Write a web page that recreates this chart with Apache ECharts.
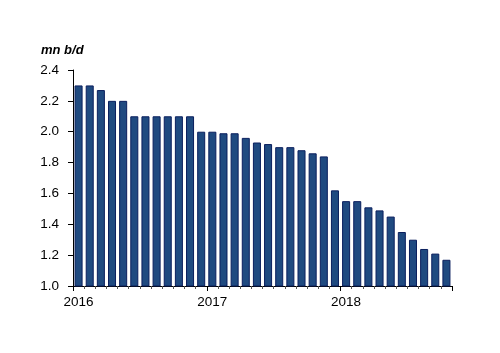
<!DOCTYPE html>
<html>
<head>
<meta charset="utf-8">
<script src="https://cdn.jsdelivr.net/npm/echarts@6/dist/echarts.min.js"></script>
<style>
html, body { margin: 0; padding: 0; background: #fff; }
#container { width: 500px; height: 353px; }
</style>
</head>
<body>
<div id="container"></div>
<script>
var months = [
    '2016-01','2016-02','2016-03','2016-04','2016-05','2016-06','2016-07','2016-08','2016-09','2016-10','2016-11','2016-12',
    '2017-01','2017-02','2017-03','2017-04','2017-05','2017-06','2017-07','2017-08','2017-09','2017-10','2017-11','2017-12',
    '2018-01','2018-02','2018-03','2018-04','2018-05','2018-06','2018-07','2018-08','2018-09','2018-10'
];
var values = [
    2.30, 2.30, 2.27, 2.20, 2.20, 2.10, 2.10, 2.10, 2.10, 2.10, 2.10, 2.00,
    2.00, 1.99, 1.99, 1.96, 1.93, 1.92, 1.90, 1.90, 1.88, 1.86, 1.84, 1.62,
    1.55, 1.55, 1.51, 1.49, 1.45, 1.35, 1.30, 1.24, 1.21, 1.17
];
var yMin = 1.0, yMax = 2.4, yStep = 0.2;
var unitLabel = 'mn b/d';

var dom = document.getElementById('container');
var myChart = echarts.init(dom);
var font = 'Liberation Sans, Arial, Helvetica, sans-serif';

var option = {
    animation: false,
    title: {
        text: unitLabel,
        left: 36,
        top: 39,
        textStyle: {
            fontFamily: font,
            fontSize: 13,
            fontWeight: 'bold',
            fontStyle: 'italic',
            color: '#000'
        }
    },
    grid: {
        left: 73,
        right: 48,
        top: 70,
        bottom: 67
    },
    xAxis: [
        {
            type: 'category',
            data: months,
            boundaryGap: true,
            axisLine: {lineStyle: {color: '#000', width: 1}},
            axisTick: {show: true, interval: 0, length: 3, lineStyle: {color: '#555'}},
            axisLabel: {
                interval: function (index) { return index % 12 === 0; },
                formatter: function (v) { return v.slice(0, 4); },
                fontFamily: font,
                fontSize: 13.5,
                color: '#000',
                margin: 9
            },
            splitLine: {show: false}
        },
        {
            // longer ticks at year boundaries
            type: 'category',
            data: months,
            position: 'bottom',
            boundaryGap: true,
            axisLine: {show: false},
            axisTick: {
                show: true,
                interval: function (index) { return index % 12 === 0; },
                length: 5,
                lineStyle: {color: '#000'}
            },
            axisLabel: {show: false},
            splitLine: {show: false}
        }
    ],
    yAxis: {
        type: 'value',
        min: yMin,
        max: yMax,
        interval: yStep,
        axisLine: {show: true, lineStyle: {color: '#000', width: 1}},
        axisTick: {show: true, length: 5, lineStyle: {color: '#000'}},
        axisLabel: {
            formatter: function (v) { return v.toFixed(1); },
            fontFamily: font,
            fontSize: 13.5,
            color: '#000',
            margin: 14
        },
        splitLine: {show: false}
    },
    series: [
        {
            type: 'bar',
            data: values,
            barCategoryGap: '28%',
            itemStyle: {
                color: '#1f4a80',
                borderColor: '#0b1f5e',
                borderWidth: 1
            }
        }
    ]
};
myChart.setOption(option, true);
</script>
</body>
</html>
